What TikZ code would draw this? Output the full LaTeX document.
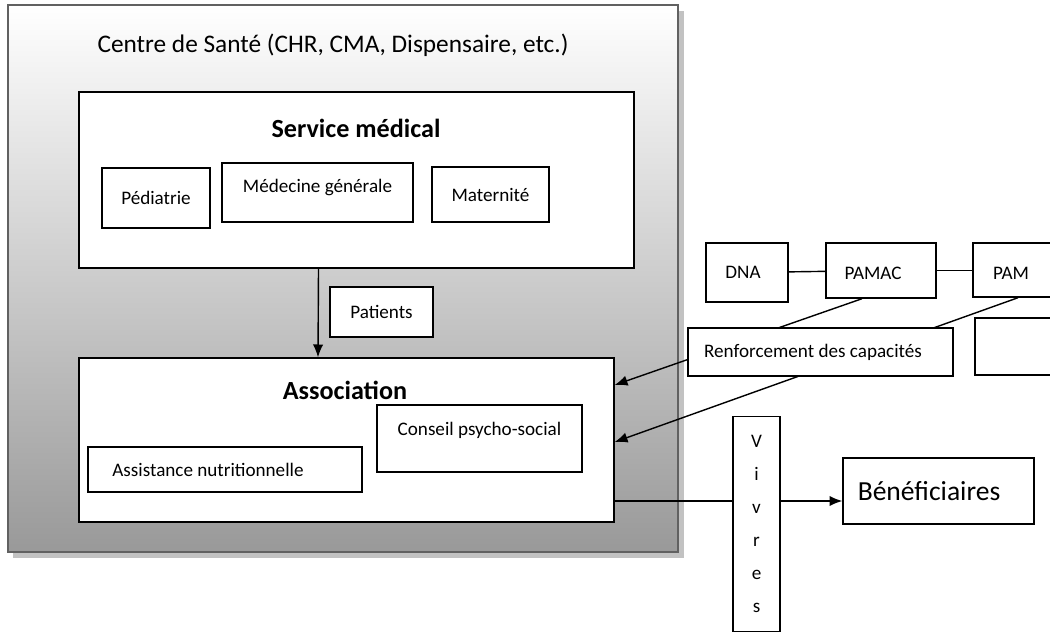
\documentclass[tikz,border=0pt]{standalone}
\usepackage{fontspec}
\setmainfont{Carlito}
\usepackage{tikz}
\usetikzlibrary{arrows.meta,calc,positioning}

\begin{document}
\begin{tikzpicture}[x=0.025cm, y=-0.025cm,
    boite/.style={draw, line width=1pt, fill=white, inner sep=0pt,
      font=\fontsize{13.6}{16}\selectfont},
    fleche/.style={-{Latex[length=3.2mm,width=2.6mm]}, line width=1pt},
    trait/.style={line width=1pt}]
      \def \pix {0.025cm}
      \def \grand {\fontsize{18.6}{22}\selectfont}
      \def \decale #1{\hspace*{#1\dimexpr 0.025cm\relax}} % texte pousse vers la gauche

      \useasboundingbox (0,0) rectangle (1050,632);
      \clip (0,0) rectangle (1050,632);

      % centre de sante
      \fill[black!24] (13,11) rectangle (684,558);
      \node[draw=black!62, line width=1.4pt, top color=white, bottom color=black!40,
        minimum width=670*\pix, minimum height=547*\pix] (sante) at (343,278.5) {};
      \node[font=\fontsize{18}{21}\selectfont] (titre) at (333,45)
        {Centre de Santé (CHR, CMA, Dispensaire, etc.)};

      \node[boite, minimum width=555*\pix, minimum height=176*\pix] (medical) at (356.5,180) {};
      \node[font=\grand\bfseries] (titremed) at (356,128) {Service médical};
      \node[boite, minimum width=108*\pix, minimum height=60*\pix] (pediatrie) at (156,198) {Pédiatrie};
      \node[boite, minimum width=191*\pix, minimum height=59*\pix, text depth=13*\pix] (medecine) at (317.5,192.5) {Médecine générale};
      \node[boite, minimum width=117*\pix, minimum height=55*\pix] (maternite) at (490.5,194.5) {Maternité};

      \node[boite, minimum width=103*\pix, minimum height=50*\pix] (patients) at (381.5,312) {Patients};

      \node[boite, minimum width=535*\pix, minimum height=164*\pix] (association) at (346.5,440) {};
      \node[font=\grand\bfseries] (titreassoc) at (345,390) {Association};
      \node[boite, minimum width=274*\pix, minimum height=45*\pix] (assistance) at (225,469.5) {Assistance nutritionnelle\decale{34}};
      \node[boite, minimum width=205*\pix, minimum height=67*\pix, text depth=20*\pix] (conseil) at (479.5,438.5) {Conseil psycho-social};

      \draw[fleche] ($(medical.south)+(-38,0)$) -- ($(association.north)+(-28.5,0)$);

      % partenaires
      \node[boite, minimum width=82*\pix, minimum height=59*\pix] (dna) at (747,272.5) {DNA\decale{8}};
      \node[boite, minimum width=110*\pix, minimum height=55*\pix, text height=18*\pix] (pamac) at (881,270.5) {PAMAC\decale{16}};
      \node[boite, minimum width=90*\pix, minimum height=54*\pix, text height=18*\pix] (pam) at (1018,270) {PAM\decale{14}};
      \node[boite, minimum width=90*\pix, minimum height=57*\pix] (vide) at (1020,346.5) {};
      \draw[trait] (dna) -- (pamac);
      \draw[trait] (pamac.east) -- (pamac.east -| pam.west);

      \draw[fleche] ($(pamac.south)+(-19,0)$) -- ($(association.east)+(0,-55)$);
      \draw[fleche] (pam.south) -- ($(association.east)+(0,2)$);
      \node[boite, minimum width=265*\pix, minimum height=48*\pix] (renforcement) at (820.5,352) {Renforcement des capacités\decale{15}};

      % vivres
      \node[boite, minimum width=47*\pix, minimum height=215*\pix, align=center,
        font=\fontsize{13.6}{23.5}\selectfont] (vivres) at (756.5,524) {V\\i\\v\\r\\e\\s};
      \node[boite, minimum width=191*\pix, minimum height=66*\pix,
        font=\fontsize{19.6}{23}\selectfont] (benef) at (938.5,491) {Bénéficiaires\decale{19}};
      \coordinate (sortie) at ($(association.east)+(0,61)$);
      \draw[trait] (sortie) -- (sortie -| vivres.west);
      \draw[fleche] (sortie -| vivres.east) -- (sortie -| benef.west);
    \end{tikzpicture}
\end{document}
